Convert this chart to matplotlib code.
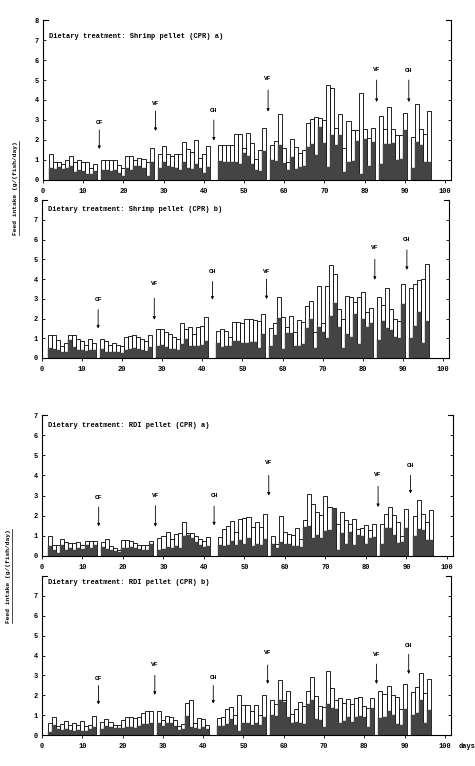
import matplotlib
matplotlib.use('Agg')
import matplotlib.pyplot as plt
from matplotlib.lines import Line2D

# feeding days (gaps = sampling days with no feed record)
days = (list(range(2, 14)) + list(range(15, 28)) + list(range(29, 42)) +
        list(range(44, 56)) + list(range(57, 83)) + list(range(84, 91)) +
        list(range(92, 97)))

# Shrimp pellet (CPR) a) - total intake and dark (lower) part, g/fish/day
shrimp_a_total = [1.3, 0.9, 0.9, 0.8, 1.0, 1.2, 0.9, 1.0, 0.9, 0.9, 0.6, 0.8,
                  1.0, 1.0, 1.0, 1.0, 0.75, 0.6, 1.2, 1.2, 1.0, 1.1, 1.05, 0.9, 1.6,
                  1.3, 1.7, 1.3, 1.2, 1.3, 1.3, 1.9, 1.55, 1.4, 2.0, 1.1, 1.3, 1.7,
                  1.75, 1.75, 1.75, 1.75, 2.3, 2.3, 1.6, 2.35, 1.85, 1.05, 1.5, 2.6,
                  1.75, 1.97, 3.3, 1.6, 0.9, 2.05, 1.65, 1.35, 1.5, 2.85, 3.05, 3.15, 3.1,
                  3.0, 4.75, 4.6, 2.6, 3.3, 1.6, 2.95, 2.5, 2.5, 4.35, 2.55, 2.1, 2.6,
                  3.2, 2.55, 3.65, 2.55, 2.25, 2.25, 3.35,
                  2.15, 3.8, 2.55, 2.3, 3.45]
shrimp_a_dark = [0.6, 0.55, 0.65, 0.55, 0.6, 0.7, 0.4, 0.5, 0.45, 0.3, 0.3, 0.45,
                 0.5, 0.5, 0.45, 0.5, 0.35, 0.2, 0.6, 0.5, 0.7, 0.7, 0.6, 0.2, 0.9,
                 0.6, 0.9, 0.7, 0.65, 0.6, 0.5, 0.9, 0.6, 0.55, 0.8, 0.6, 0.35, 0.65,
                 0.95, 0.9, 0.9, 0.9, 0.9, 0.8, 1.35, 1.2, 0.8, 0.5, 0.45, 1.45,
                 1.0, 0.95, 1.75, 0.85, 0.5, 1.15, 0.55, 0.65, 0.7, 1.65, 1.8, 1.25, 2.65,
                 1.85, 0.65, 2.25, 1.75, 2.25, 0.4, 0.9, 0.95, 1.95, 0.3, 2.05, 0.7, 1.9,
                 0.8, 1.8, 1.8, 1.85, 1.0, 1.05, 2.5,
                 0.6, 1.9, 1.75, 0.9, 0.9]

# Shrimp pellet (CPR) b)
shrimp_b_total = [1.15, 1.15, 0.9, 0.6, 0.75, 1.15, 1.15, 0.95, 0.85, 0.65, 0.95, 0.75,
                  0.95, 0.85, 0.65, 0.75, 0.65, 0.6, 1.05, 1.1, 1.15, 1.05, 0.95, 0.85, 1.15,
                  1.45, 1.45, 1.3, 1.2, 1.05, 0.95, 1.75, 1.45, 1.55, 1.2, 1.55, 1.6, 2.1,
                  1.35, 1.45, 1.35, 1.05, 1.8, 1.8, 1.75, 2.0, 1.95, 1.9, 1.85, 2.25,
                  1.5, 1.75, 3.1, 2.1, 1.55, 2.15, 1.3, 1.9, 1.8, 2.65, 2.9, 1.3, 3.65,
                  1.75, 3.65, 4.7, 4.25, 2.5, 2.0, 3.15, 3.1, 2.85, 3.1, 3.35, 2.35, 2.55,
                  3.1, 2.7, 3.55, 2.5, 2.0, 1.85, 3.75,
                  3.55, 3.75, 3.95, 4.0, 4.75]
shrimp_b_dark = [0.5, 0.45, 0.4, 0.3, 0.3, 0.9, 0.55, 0.4, 0.4, 0.35, 0.4, 0.4,
                 0.45, 0.3, 0.3, 0.3, 0.3, 0.25, 0.4, 0.45, 0.5, 0.45, 0.4, 0.35, 0.55,
                 0.6, 0.65, 0.55, 0.45, 0.45, 0.4, 0.7, 0.95, 0.6, 0.6, 0.6, 0.65, 0.85,
                 0.75, 0.55, 0.6, 0.6, 0.85, 0.85, 0.75, 0.75, 0.8, 0.8, 0.5, 1.2,
                 0.6, 1.15, 2.05, 0.45, 1.25, 1.25, 0.6, 0.6, 0.7, 1.5, 2.0, 0.5, 1.55,
                 1.3, 1.0, 2.15, 2.8, 1.55, 0.5, 1.2, 1.05, 2.25, 0.7, 1.95, 1.55, 1.75,
                 0.9, 1.85, 1.5, 1.4, 1.05, 1.0, 2.75,
                 1.0, 1.6, 2.35, 0.75, 1.85]

# RDI pellet (CPR) a)
rdi_a_total = [1.0, 0.55, 0.55, 0.85, 0.7, 0.65, 0.65, 0.7, 0.55, 0.75, 0.75, 0.75,
               0.7, 0.85, 0.5, 0.4, 0.3, 0.8, 0.8, 0.75, 0.65, 0.55, 0.55, 0.55, 0.75,
               0.9, 1.0, 1.2, 0.85, 1.1, 1.15, 1.7, 1.15, 1.15, 1.0, 0.85, 0.75, 0.95,
               0.95, 1.35, 1.5, 1.75, 1.2, 1.85, 1.9, 1.95, 1.45, 1.7, 1.45, 2.1,
               1.0, 0.6, 2.0, 1.2, 1.1, 1.05, 1.4, 0.85, 1.8, 3.1, 2.6, 2.2, 2.05,
               3.0, 2.45, 2.4, 1.6, 2.2, 1.8, 1.6, 1.85, 1.35, 1.4, 1.55, 1.3, 1.6,
               1.6, 2.1, 2.45, 2.05, 1.7, 1.0, 2.35,
               2.0, 2.8, 2.1, 1.7, 2.3]
rdi_a_dark = [0.5, 0.3, 0.15, 0.55, 0.3, 0.4, 0.3, 0.4, 0.35, 0.55, 0.4, 0.55,
              0.45, 0.35, 0.3, 0.25, 0.2, 0.4, 0.4, 0.45, 0.4, 0.35, 0.3, 0.3, 0.6,
              0.3, 0.35, 0.45, 0.4, 0.5, 0.4, 1.0, 1.05, 0.9, 0.7, 0.55, 0.45, 0.5,
              0.55, 0.5, 0.55, 0.75, 0.55, 0.8, 0.6, 0.9, 0.5, 0.6, 0.55, 0.85,
              0.6, 0.4, 0.7, 0.6, 0.6, 0.5, 0.5, 0.45, 1.45, 1.5, 0.9, 1.05, 0.9,
              1.25, 1.3, 2.35, 0.3, 1.15, 0.6, 1.2, 0.55, 1.05, 1.0, 0.6, 0.9, 0.95,
              0.6, 1.4, 1.4, 1.05, 0.65, 0.7, 1.4,
              1.0, 1.35, 1.3, 0.8, 0.8]

# RDI pellet (CPR) b)
rdi_b_total = [0.6, 0.9, 0.45, 0.55, 0.7, 0.5, 0.6, 0.5, 0.7, 0.45, 0.5, 0.95,
               0.65, 0.8, 0.65, 0.5, 0.5, 0.75, 0.9, 0.9, 0.85, 0.9, 1.1, 1.2, 1.2,
               1.2, 0.75, 0.95, 0.9, 0.75, 0.45, 0.55, 1.6, 1.75, 0.6, 0.85, 0.8, 0.5,
               0.85, 0.9, 1.3, 1.4, 1.0, 2.0, 1.5, 1.5, 1.2, 1.5, 1.0, 2.0,
               1.75, 1.55, 2.75, 1.75, 2.2, 1.05, 1.3, 1.65, 1.45, 2.2, 2.9, 1.95, 1.45,
               1.4, 3.2, 2.35, 1.75, 1.85, 1.6, 1.8, 1.55, 1.85, 1.9, 1.45, 1.35, 1.85,
               2.2, 2.05, 2.45, 2.0, 1.9, 1.3, 2.55,
               2.15, 2.4, 3.1, 2.1, 2.8]
rdi_b_dark = [0.15, 0.5, 0.3, 0.25, 0.3, 0.25, 0.2, 0.25, 0.2, 0.2, 0.3, 0.4,
              0.3, 0.45, 0.4, 0.35, 0.35, 0.35, 0.4, 0.4, 0.35, 0.45, 0.55, 0.55, 0.6,
              0.6, 0.45, 0.6, 0.6, 0.45, 0.25, 0.3, 0.95, 0.4, 0.35, 0.3, 0.4, 0.3,
              0.45, 0.45, 0.55, 0.8, 0.5, 0.2, 0.6, 0.6, 0.5, 0.6, 0.5, 0.9,
              1.0, 0.95, 1.75, 1.65, 0.9, 0.6, 0.65, 0.6, 0.55, 1.55, 1.75, 0.8, 0.75,
              0.4, 1.55, 1.35, 1.3, 0.6, 0.7, 0.9, 0.65, 0.9, 0.95, 0.9, 0.4, 1.35,
              0.85, 0.9, 1.2, 1.0, 0.55, 0.5, 1.3,
              1.0, 1.1, 1.75, 0.6, 1.25]

# diet change events
event_days = [14, 28, 42.5, 56, 83, 91]
event_labels = ['CF', 'VF', 'CH', 'VF', 'VF', 'CH']

titles = ['Dietary treatment: Shrimp pellet (CPR) a)',
          'Dietary treatment: Shrimp pellet (CPR) b)',
          'Dietary treatment: RDI pellet (CPR) a)',
          'Dietary treatment: RDI pellet (CPR) b)']

W, H = 475, 766
MONO = 'Liberation Mono'
DARK = '#444444'

# layout per panel: pixel box (x0, x1, ytop, ybottom), ylim, y ticks, title y,
# arrow (label y, arrow start, arrow end) for each event
panels = [
    dict(box=(43, 451, 20, 180), ylim=8, yt=8, ty=7.2,
         total=shrimp_a_total, dark=shrimp_a_dark,
         arr=[(2.87, 2.5, 1.55), (3.83, 3.45, 2.45), (3.45, 3.0, 1.97),
              (5.07, 4.5, 3.42), (5.55, 5.0, 3.9), (5.47, 5.0, 3.9)]),
    dict(box=(42, 449, 200, 358), ylim=8, yt=8, ty=7.5,
         total=shrimp_b_total, dark=shrimp_b_dark,
         arr=[(2.95, 2.45, 1.5), (3.75, 3.03, 1.94), (4.4, 3.87, 2.95),
              (4.4, 4.0, 2.98), (5.6, 5.0, 3.96), (6.0, 5.47, 4.46)]),
    dict(box=(42, 453, 415, 556), ylim=7, yt=7, ty=6.5,
         total=rdi_a_total, dark=rdi_a_dark,
         arr=[(2.9, 2.43, 1.47), (3.0, 2.5, 1.45), (3.0, 2.47, 1.52),
              (4.63, 4.0, 3.0), (4.05, 3.46, 2.43), (4.5, 4.0, 3.1)]),
    dict(box=(42, 451, 576, 735), ylim=8, yt=7, ty=7.65,
         total=rdi_b_total, dark=rdi_b_dark,
         arr=[(2.85, 2.49, 1.53), (3.57, 3.0, 2.02), (2.9, 2.49, 1.58),
              (4.15, 3.52, 2.57), (4.03, 3.57, 2.57), (4.5, 4.06, 3.07)]),
]

fig = plt.figure(figsize=(W / 100, H / 100), dpi=100)

for i, p in enumerate(panels):
    x0, x1, yt_px, yb_px = p['box']
    ax = fig.add_axes([x0 / W, 1 - yb_px / H, (x1 - x0) / W, (yb_px - yt_px) / H])
    ax.bar(days, p['total'], width=1.0, color='white', edgecolor='black', linewidth=0.6)
    ax.bar(days, p['dark'], width=1.0, color=DARK, edgecolor=DARK, linewidth=0.3)

    ax.set_xlim(0, 101.5)
    ax.set_ylim(0, p['ylim'])
    ax.set_xticks(range(0, 101, 10))
    ax.set_yticks(range(0, p['yt'] + 1))
    ax.spines['top'].set_visible(False)
    for s in ['left', 'right', 'bottom']:
        ax.spines[s].set_linewidth(0.8)
    ax.tick_params(axis='y', which='both', direction='in', length=2, width=0.6,
                   right=True, labelsize=5, pad=3)
    ax.tick_params(axis='x', direction='out', length=2, width=0.6, labelsize=5, pad=4)
    for lab in ax.get_xticklabels() + ax.get_yticklabels():
        lab.set_fontfamily(MONO)
        lab.set_fontweight('bold')

    # bracket ends at the top of the side spines
    ax.plot([0, 0.012], [1, 1], transform=ax.transAxes, color='black', lw=0.8, clip_on=False)
    ax.plot([0.988, 1], [1, 1], transform=ax.transAxes, color='black', lw=0.8, clip_on=False)

    ax.text(1.5, p['ty'], titles[i], fontsize=5, family=MONO, fontweight='bold',
            va='center', ha='left')

    for d, lab, (ly, a0, a1) in zip(event_days, event_labels, p['arr']):
        ax.annotate('', xy=(d, a1), xytext=(d, a0),
                    arrowprops=dict(arrowstyle='-|>', lw=0.6, color='black',
                                    mutation_scale=4, shrinkA=0, shrinkB=0))
        ax.text(d, ly, lab, fontsize=4.5, family=MONO, fontweight='bold',
                ha='center', va='center')

    if i == 3:
        ax.annotate('days', xy=(105.5, 0), xycoords=('data', 'axes fraction'),
                    xytext=(0, -6), textcoords='offset points', fontsize=5,
                    family=MONO, fontweight='bold', ha='center', va='top',
                    annotation_clip=False)

ylab = 'Feed intake (g/(fish/day)'
t1 = fig.text(16 / W, 1 - 188 / H, ylab, rotation=90, fontsize=4.5, family=MONO,
              fontweight='bold', ha='center', va='center')
t2 = fig.text(9 / W, 1 - 576 / H, ylab, rotation=90, fontsize=4.5, family=MONO,
              fontweight='bold', ha='center', va='center')

# underline the rotated axis labels
fig.canvas.draw()
for t in (t1, t2):
    bb = t.get_window_extent()
    xu = (bb.x1 + 0.8) / W
    fig.add_artist(Line2D([xu, xu], [bb.y0 / H, bb.y1 / H], color='black', lw=0.5))

fig.savefig('out.png', dpi=100)
